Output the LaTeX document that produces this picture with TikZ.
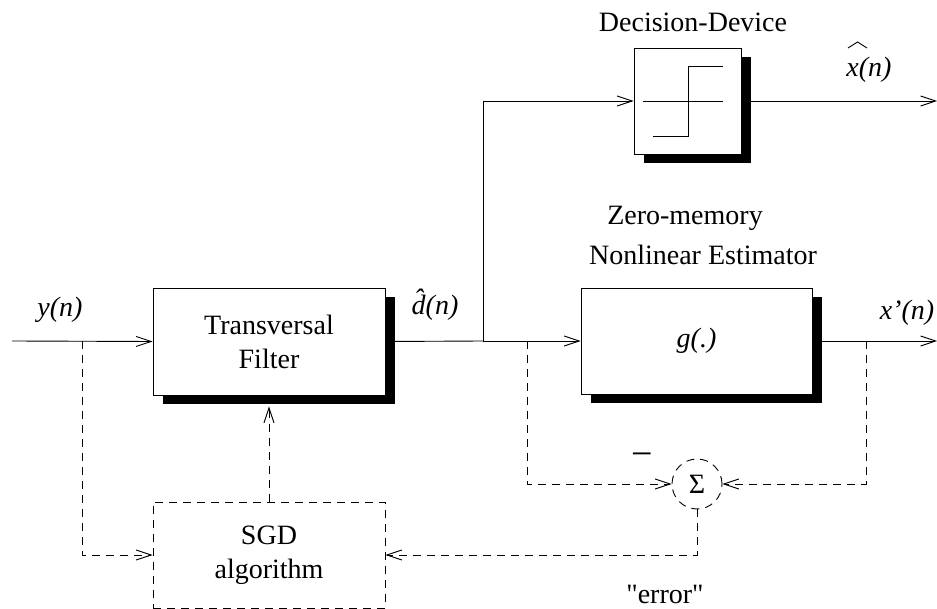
\documentclass[tikz,border=0pt]{standalone}
\usepackage{fontspec}
\setmainfont{Liberation Serif}
\newfontfamily\plainserif{Liberation Serif}[Ligatures=ResetAll]
\usetikzlibrary{arrows.meta,shadows,calc,backgrounds}
\begin{document}
\begin{tikzpicture}[x=1pt,y=-1pt,
  every node/.style={font=\fontsize{28}{34}\selectfont},
  ln/.style={line width=0.9pt},
  arr/.style={ln,-{Straight Barb[length=15pt,width=10pt,line width=0.9pt]}},
  dsh/.style={dash pattern=on 8pt off 6pt},
  blk/.style={draw,ln,fill=white,inner sep=0pt,align=center,
    drop shadow={shadow xshift=9.5pt,shadow yshift=-9.5pt,opacity=1,fill=black}},
  lbl/.style={inner sep=0pt},
  itl/.style={inner sep=0pt,font=\fontsize{28}{34}\selectfont\itshape}
]
\useasboundingbox (0,0) rectangle (937,609);

% blocks
\node[blk,minimum width=232pt,minimum height=107pt] (tf) at (269,341.5) {Transversal\\Filter};
\node[blk,minimum width=231pt,minimum height=106pt,font=\fontsize{28}{34}\selectfont\itshape] (g) at (696.5,341) {g(.)};
\node[blk,minimum width=107pt,minimum height=106pt] (dd) at (687.5,101) {};
\node[draw,ln,dsh,inner sep=0pt,align=center,minimum width=232pt,minimum height=106pt] (sgd) at (269,555) {SGD\\algorithm};
\node[draw,ln,dsh,circle,inner sep=0pt,minimum size=50pt] (sig) at (697,484) {Σ};

% step function inside decision device
\draw[ln] (643,101) -- (723,101);
\draw[ln] (653,136) -- (688,136) -- (688,66) -- (723,66);

% labels
\node[lbl] (ddl) at (693,22) {Decision-Device};
\node[lbl] (zm1) at (685,218) {Zero-memory};
\node[lbl] (zm2) at (703,255) {Nonlinear Estimator};
\node[itl] (yl) at (60,310) {y(n)};
\node[itl] (dl) at (435,305) {\^{d}(n)};
\node[itl] (xl) at (869,70) {x(n)};
\draw[ln] (848,48) -- (857.5,42) -- (867,48);
\node[itl] (xpl) at (907,313) {x’(n)};
\node[lbl,font=\fontsize{38}{40}\selectfont] (minus) at (642,460) {−};
\node[lbl,font=\fontsize{28}{34}\selectfont\plainserif] (err) at (665,594) {"error"};

% coordinates
\coordinate (in) at (12,341);
\coordinate (j1) at (483,341);
\coordinate (ta) at (82,341);
\coordinate (tb) at (527,341);
\coordinate (tc) at (866,341);
\coordinate (o1) at (937,101);
\coordinate (o2) at (937,341);

\begin{scope}[on background layer]
\draw[arr] (in) -- (tf.west);
\draw[ln] (tf.east) -- (j1);
\draw[arr] (j1) -- (g.west);
\draw[arr] (j1) |- (dd.west);
\draw[arr] (dd.east) -- (o1);
\draw[arr] (g.east) -- (o2);
\draw[arr,dsh] (ta) |- (sgd.west);
\draw[arr,dsh] (tb) |- (sig.west);
\draw[arr,dsh] (tc) |- (sig.east);
\draw[arr,dsh] (sig.south) |- (sgd.east);
\draw[arr,dsh] (sgd.north) -- ($(tf.south)+(0,11)$);
\end{scope}
\end{tikzpicture}
\end{document}
